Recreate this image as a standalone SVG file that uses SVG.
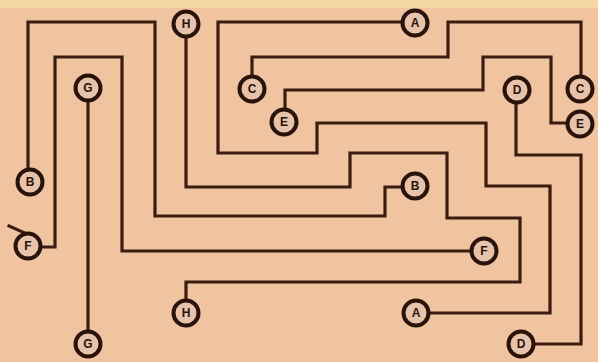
<svg xmlns="http://www.w3.org/2000/svg" width="598" height="362" viewBox="0 0 598 362">
<style>
.w{fill:none;stroke:#3b1d10;stroke-width:3.2;stroke-linejoin:miter;stroke-linecap:square}
.n circle{fill:#e6c3aa;stroke:#2a130a;stroke-width:4}
.n text{font-family:"Liberation Sans",Arial,sans-serif;font-size:12px;font-weight:bold;fill:#2a130a;text-anchor:middle;dominant-baseline:central}
</style>
<rect x="0" y="0" width="598" height="362" fill="#f0c4a0"/>
<rect x="0" y="0" width="598" height="8" fill="#f5d8a4"/>
<g id="connectors">
<path class="w" d="M186,37 V187 H350 V153 H447 V218 H520 V282 H186 V301"/>
<path class="w" d="M402,22 H218 V153 H317 V123 H486 V186 H550 V313 H428"/>
<path class="w" d="M252,77 V57 H448 V22 H581 V76"/>
<path class="w" d="M285,110 V90 H483 V57 H551 V123 H568"/>
<path class="w" d="M516,102 V155 H581 V344 H533"/>
<path class="w" d="M88,100 V331"/>
<path class="w" d="M28,170 V22 H155 V216 H385 V187 H402"/>
<path class="w" d="M40,247 H55 V57 H122 V251 H472"/>
<path class="w" d="M9,226 L27,234"/>
</g>
<g id="node-H1" class="n"><circle cx="186" cy="24" r="12.5"/><text x="186" y="24">H</text></g>
<g id="node-A1" class="n"><circle cx="415" cy="23" r="12.5"/><text x="415" y="23">A</text></g>
<g id="node-C1" class="n"><circle cx="252" cy="89" r="12.5"/><text x="252" y="89">C</text></g>
<g id="node-E1" class="n"><circle cx="284" cy="122" r="12.5"/><text x="284" y="122">E</text></g>
<g id="node-D1" class="n"><circle cx="517" cy="90" r="12.5"/><text x="517" y="90">D</text></g>
<g id="node-C2" class="n"><circle cx="580" cy="89" r="12.5"/><text x="580" y="89">C</text></g>
<g id="node-E2" class="n"><circle cx="580" cy="124" r="12.5"/><text x="580" y="124">E</text></g>
<g id="node-G1" class="n"><circle cx="88" cy="88" r="12.5"/><text x="88" y="88">G</text></g>
<g id="node-B1" class="n"><circle cx="30" cy="182" r="12.5"/><text x="30" y="182">B</text></g>
<g id="node-F1" class="n"><circle cx="28" cy="246" r="12.5"/><text x="28" y="246">F</text></g>
<g id="node-G2" class="n"><circle cx="88" cy="344" r="12.5"/><text x="88" y="344">G</text></g>
<g id="node-H2" class="n"><circle cx="186" cy="313" r="12.5"/><text x="186" y="313">H</text></g>
<g id="node-B2" class="n"><circle cx="415" cy="186" r="12.5"/><text x="415" y="186">B</text></g>
<g id="node-F2" class="n"><circle cx="484" cy="251" r="12.5"/><text x="484" y="251">F</text></g>
<g id="node-A2" class="n"><circle cx="416" cy="313" r="12.5"/><text x="416" y="313">A</text></g>
<g id="node-D2" class="n"><circle cx="521" cy="344" r="12.5"/><text x="521" y="344">D</text></g>
</svg>
